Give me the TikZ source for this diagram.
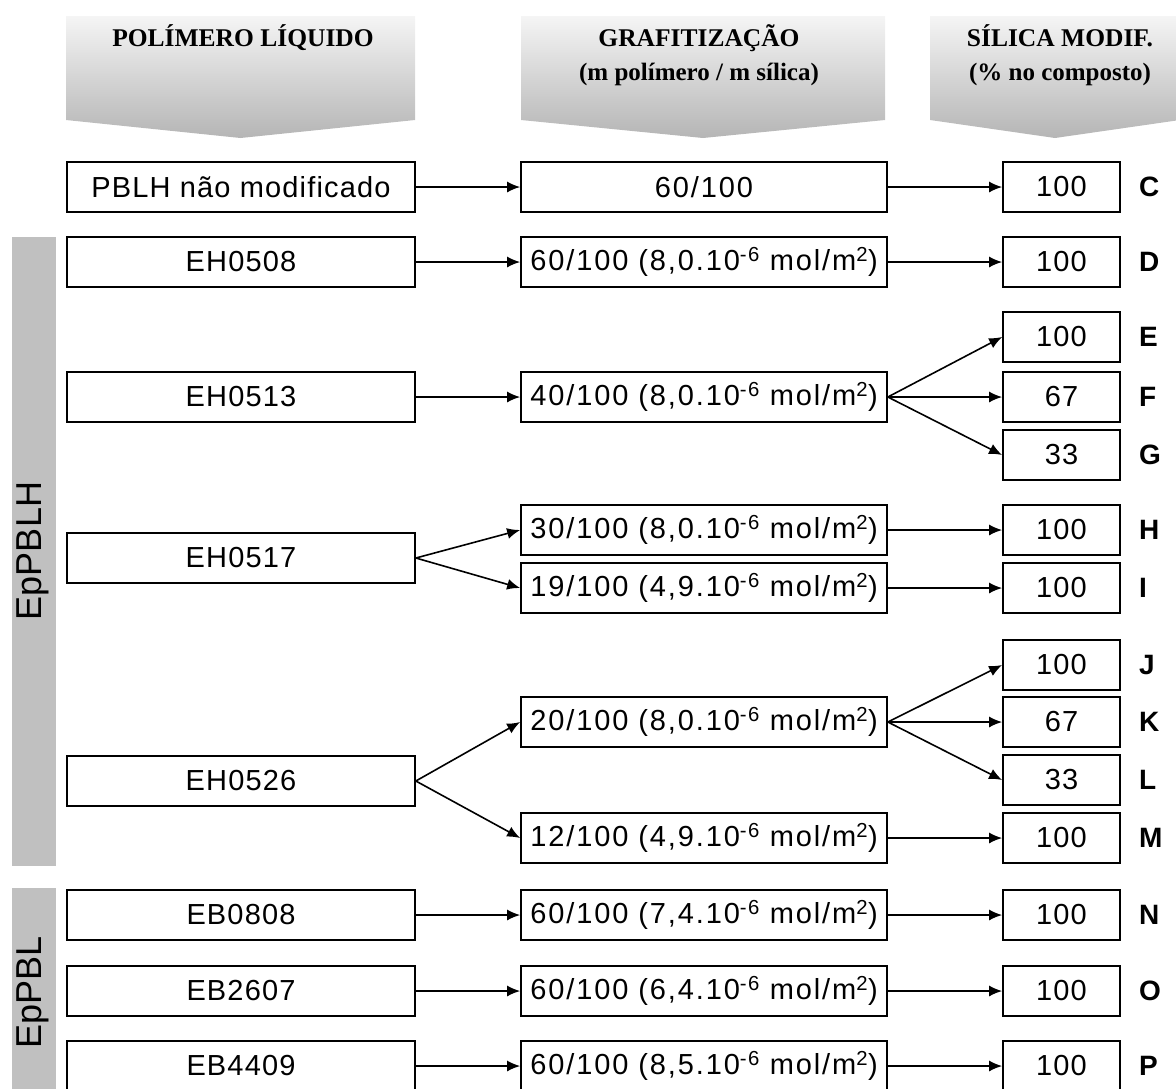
\documentclass[tikz,border=0pt]{standalone}
\usepackage{fontspec}
\setmainfont{Liberation Sans}
\newfontfamily\boxfont[LetterSpace=4]{Liberation Sans}
\newfontfamily\midfont[LetterSpace=6.5]{Liberation Sans}
\newfontfamily\headfont{Liberation Serif}
\usetikzlibrary{arrows.meta}
\definecolor{bargray}{RGB}{192,192,192}
\tikzset{
 box/.style={draw=black, line width=1.7pt, inner sep=0pt, minimum height=50pt, font=\boxfont\fontsize{29}{32}\selectfont},
 lbox/.style={box, minimum width=348pt},
 mbox/.style={box, minimum width=366pt, font=\midfont\fontsize{29}{32}\selectfont},
 rbox/.style={box, minimum width=117pt},
 tag/.style={font=\bfseries\fontsize{28}{30}\selectfont, inner sep=0pt},
 conn/.style={line width=1.6pt, -{Latex[length=13pt,width=11pt]}},
 headtxt/.style={font=\headfont\bfseries\fontsize{25.5}{30}\selectfont, inner sep=0pt, anchor=base},
 headsub/.style={headtxt, font=\headfont\bfseries\fontsize{25}{30}\selectfont},
 hshade/.style={top color=gray!8, bottom color=gray!58, draw=none},
 sidebar/.style={fill=bargray, draw=none},
 sidetxt/.style={rotate=90, font=\fontsize{36}{40}\selectfont, inner sep=0pt}
}
\newcommand{\ex}[1]{\textsuperscript{#1}}
\begin{document}
\begin{tikzpicture}[x=1pt,y=-1pt]
\useasboundingbox (0,0) rectangle (1176,1088);
\clip (0,0) rectangle (1176,1088);
% headers
\shade[hshade] (66,16) -- (415,16) -- (415,120) -- (240.5,138) -- (66,120) -- cycle;
\shade[hshade] (521,16) -- (885,16) -- (885,120) -- (703,138) -- (521,120) -- cycle;
\shade[hshade] (930,16) -- (1180,16) -- (1180,120) -- (1055,138) -- (930,120) -- cycle;
\node[headtxt] (h1) at (243,46) {POLÍMERO LÍQUIDO};
\node[headtxt] (h2a) at (699,46) {GRAFITIZAÇÃO};
\node[headsub] (h2b) at (699,80) {(m polímero / m sílica)};
\node[headtxt] (h3a) at (1060,46) {SÍLICA MODIF.};
\node[headsub] (h3b) at (1060,80) {(\% no composto)};
% side bars
\fill[sidebar] (12,237) rectangle (56,866);
\fill[sidebar] (12,888) rectangle (56,1092);
\node[sidetxt] (s1) at (33,551) {EpPBLH};
\node[sidetxt] (s2) at (33,992) {EpPBL};
% left boxes
\node[lbox] (lC) at (241,187) {PBLH não modificado};
\node[lbox] (lD) at (241,262) {EH0508};
\node[lbox] (l13) at (241,397) {EH0513};
\node[lbox] (l17) at (241,558) {EH0517};
\node[lbox] (l26) at (241,781) {EH0526};
\node[lbox] (lN) at (241,915) {EB0808};
\node[lbox] (lO) at (241,991) {EB2607};
\node[lbox] (lP) at (241,1066) {EB4409};
% middle boxes
\node[mbox] (mC) at (704,187) {60/100};
\node[mbox] (mD) at (704,262) {60/100 (8,0.10\ex{-6} mol/m\ex{2})};
\node[mbox] (m40) at (704,397) {40/100 (8,0.10\ex{-6} mol/m\ex{2})};
\node[mbox] (m30) at (704,530) {30/100 (8,0.10\ex{-6} mol/m\ex{2})};
\node[mbox] (m19) at (704,588) {19/100 (4,9.10\ex{-6} mol/m\ex{2})};
\node[mbox] (m20) at (704,722) {20/100 (8,0.10\ex{-6} mol/m\ex{2})};
\node[mbox] (m12) at (704,838) {12/100 (4,9.10\ex{-6} mol/m\ex{2})};
\node[mbox] (mN) at (704,915) {60/100 (7,4.10\ex{-6} mol/m\ex{2})};
\node[mbox] (mO) at (704,991) {60/100 (6,4.10\ex{-6} mol/m\ex{2})};
\node[mbox] (mP) at (704,1066) {60/100 (8,5.10\ex{-6} mol/m\ex{2})};
% right boxes
\node[rbox] (rC) at (1061.5,187) {100};
\node[rbox] (rD) at (1061.5,262) {100};
\node[rbox] (rE) at (1061.5,337) {100};
\node[rbox] (rF) at (1061.5,397) {67};
\node[rbox] (rG) at (1061.5,455) {33};
\node[rbox] (rH) at (1061.5,530) {100};
\node[rbox] (rI) at (1061.5,588) {100};
\node[rbox] (rJ) at (1061.5,665) {100};
\node[rbox] (rK) at (1061.5,722) {67};
\node[rbox] (rL) at (1061.5,780) {33};
\node[rbox] (rM) at (1061.5,838) {100};
\node[rbox] (rN) at (1061.5,915) {100};
\node[rbox] (rO) at (1061.5,991) {100};
\node[rbox] (rP) at (1061.5,1066) {100};
% tags
\foreach \t in {C,D,E,F,G,H,I,J,K,L,M,N,O,P}
  \node[tag, anchor=west] (t\t) at ([xshift=18pt]r\t.east) {\t};
% connectors
\draw[conn] (lC) -- (mC);
\draw[conn] (lD) -- (mD);
\draw[conn] (l13) -- (m40);
\draw[conn] (l17.east) -- (m30.west);
\draw[conn] (l17.east) -- (m19.west);
\draw[conn] (l26.east) -- (m20.west);
\draw[conn] (l26.east) -- (m12.west);
\draw[conn] (lN) -- (mN);
\draw[conn] (lO) -- (mO);
\draw[conn] (lP) -- (mP);
\draw[conn] (mC) -- (rC);
\draw[conn] (mD) -- (rD);
\draw[conn] (m40.east) -- (rE.west);
\draw[conn] (m40.east) -- (rF.west);
\draw[conn] (m40.east) -- (rG.west);
\draw[conn] (m30) -- (rH);
\draw[conn] (m19) -- (rI);
\draw[conn] (m20.east) -- (rJ.west);
\draw[conn] (m20.east) -- (rK.west);
\draw[conn] (m20.east) -- (rL.west);
\draw[conn] (m12) -- (rM);
\draw[conn] (mN) -- (rN);
\draw[conn] (mO) -- (rO);
\draw[conn] (mP) -- (rP);
\end{tikzpicture}
\end{document}
